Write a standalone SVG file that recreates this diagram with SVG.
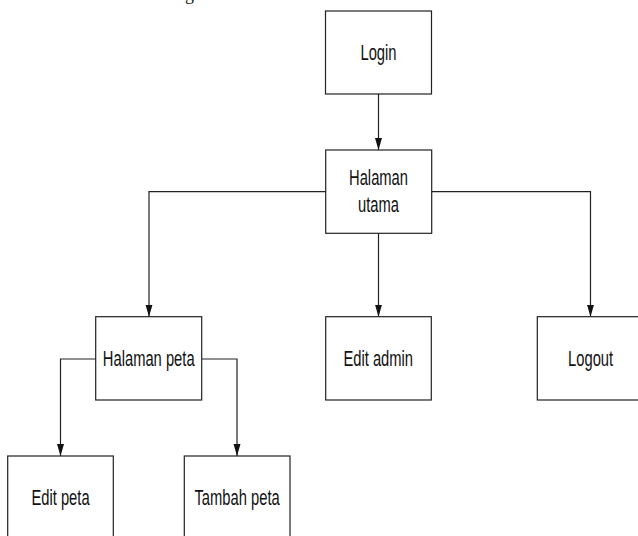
<svg xmlns="http://www.w3.org/2000/svg" width="638" height="536" viewBox="0 0 638 536">
<style>
.box{fill:#fff;stroke:#222;stroke-width:1.2}
.lbl{font-family:"Liberation Sans",Arial,sans-serif;font-size:22px;fill:#111;text-anchor:middle}
.con{fill:none;stroke:#222;stroke-width:1.2}
</style>
<defs>
<marker id="ah" markerUnits="userSpaceOnUse" markerWidth="12" markerHeight="8" refX="12" refY="3.5" orient="auto">
<path d="M0,0 L12,3.5 L0,7 z" fill="#111"/>
</marker>
</defs>
<rect width="638" height="536" fill="#fff"/>
<text x="185" y="0" style="font-family:'Liberation Serif','Times New Roman',serif;font-size:18px;fill:#111">g</text>
<g id="connectors">
<path class="con" d="M378.5,94 V150" marker-end="url(#ah)"/>
<path class="con" d="M325.7,191.7 H149 V316.7" marker-end="url(#ah)"/>
<path class="con" d="M378.5,233.3 V316.7" marker-end="url(#ah)"/>
<path class="con" d="M431.7,191.7 H590.5 V316.7" marker-end="url(#ah)"/>
<path class="con" d="M95.7,359 H60.5 V456" marker-end="url(#ah)"/>
<path class="con" d="M201.7,359 H237 V456" marker-end="url(#ah)"/>
</g>
<g id="login">
<rect class="box" x="325.5" y="11" width="106" height="83"/>
<text class="lbl" transform="translate(378.5,60.3) scale(0.67,1)">Login</text>
</g>
<g id="halaman-utama">
<rect class="box" x="325.7" y="150" width="106" height="83.3"/>
<text class="lbl" transform="translate(378.5,185) scale(0.67,1)">Halaman</text>
<text class="lbl" transform="translate(378.5,211.7) scale(0.67,1)">utama</text>
</g>
<g id="halaman-peta">
<rect class="box" x="95.7" y="316.7" width="106" height="83.3"/>
<text class="lbl" transform="translate(148.7,365.7) scale(0.67,1)">Halaman peta</text>
</g>
<g id="edit-admin">
<rect class="box" x="325.7" y="316.7" width="105.6" height="83.3"/>
<text class="lbl" transform="translate(378.2,365.5) scale(0.67,1)">Edit admin</text>
</g>
<g id="logout">
<rect class="box" x="537.3" y="316.7" width="106" height="83.3"/>
<text class="lbl" transform="translate(590.6,365.5) scale(0.67,1)">Logout</text>
</g>
<g id="edit-peta">
<rect class="box" x="7.7" y="456" width="105.6" height="83.3"/>
<text class="lbl" transform="translate(60.5,505) scale(0.67,1)">Edit peta</text>
</g>
<g id="tambah-peta">
<rect class="box" x="184.3" y="456" width="105.7" height="83.3"/>
<text class="lbl" transform="translate(237.1,505) scale(0.67,1)">Tambah peta</text>
</g>
</svg>
